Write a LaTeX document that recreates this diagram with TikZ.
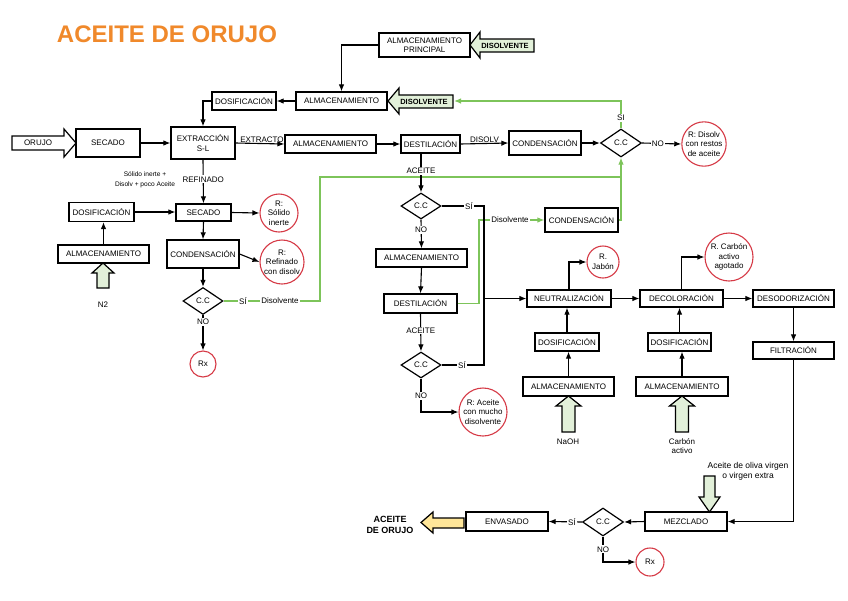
\documentclass[tikz,border=0pt]{standalone}
\usepackage{fontspec}
\setmainfont{Liberation Sans}
\usetikzlibrary{shapes.geometric,arrows.meta}
\definecolor{gline}{RGB}{125,196,90}
\definecolor{gfill}{RGB}{226,240,217}
\definecolor{yfill}{RGB}{255,230,153}
\definecolor{rcirc}{RGB}{214,58,70}
\definecolor{ttl}{RGB}{240,137,43}
\begin{document}
\begin{tikzpicture}[x=1pt,y=-1pt,
 box/.style={draw, line width=1.2pt, inner sep=0pt, align=center, font=\fontsize{8}{9.5}\selectfont},
 res/.style={draw=rcirc, circle, line width=1.1pt, inner sep=0pt, align=center, font=\fontsize{8}{9.5}\selectfont, fill=white},
 dec/.style={draw, diamond, line width=1.2pt, inner sep=0pt, font=\fontsize{8}{9.5}\selectfont},
 arr/.style={line width=1.1pt, -{Latex[length=7pt,width=5.5pt]}},
 ln/.style={line width=1.1pt},
 garr/.style={gline, line width=1.2pt, -{Latex[length=7pt,width=5.5pt]}},
 gln/.style={gline, line width=1.2pt},
 lbl/.style={font=\fontsize{8}{9.5}\selectfont, inner sep=1pt, align=center},
 wl/.style={lbl, fill=white, text=black},
 blk/.style={draw, line width=1.2pt, line join=miter},
]
\useasboundingbox[fill=white] (0,0) rectangle (848,600);

% title
\node[font=\bfseries\fontsize{24}{28}\selectfont, text=ttl] (title) at (167,34) {ACEITE DE ORUJO};

% boxes
\node[box, minimum width=91pt, minimum height=24pt] (almp) at (424.5,45) {ALMACENAMIENTO\\PRINCIPAL};
\node[box, minimum width=91pt, minimum height=18pt] (alm1) at (341.5,101) {ALMACENAMIENTO};
\node[box, minimum width=64pt, minimum height=18pt] (dos1) at (244,101) {DOSIFICACIÓN};
\node[box, minimum width=64pt, minimum height=28pt] (sec1) at (108,143) {SECADO};
\node[box, minimum width=64pt, minimum height=32pt] (ext) at (203,143) {EXTRACCIÓN\\S-L};
\node[box, minimum width=91pt, minimum height=18pt] (alm2) at (330.5,144) {ALMACENAMIENTO};
\node[box, minimum width=59pt, minimum height=18pt] (dest1) at (430.5,144) {DESTILACIÓN};
\node[box, minimum width=72pt, minimum height=24pt] (cond1) at (545,143) {CONDENSACIÓN};
\node[dec, minimum width=41pt, minimum height=28pt] (cc1) at (621,143) {C.C};
\node[res, minimum size=44pt] (r1) at (704,144) {R: Disolv\\con restos\\de aceite};

\node[box, minimum width=55pt, minimum height=17pt] (sec2) at (203.5,212.5) {SECADO};
\node[res, minimum size=38pt] (rsol) at (279,213) {R:\\Sólido\\inerte};
\node[box, minimum width=65pt, minimum height=19pt] (dos2) at (101.5,212) {DOSIFICACIÓN};
\node[box, minimum width=91pt, minimum height=18pt] (alm3) at (103.5,254) {ALMACENAMIENTO};
\node[box, minimum width=72pt, minimum height=28pt] (cond2) at (203,254) {CONDENSACIÓN};
\node[res, minimum size=44pt] (rref) at (282,262) {R:\\Refinado\\con disolv};
\node[dec, minimum width=40pt, minimum height=27pt] (cc2) at (203,301) {C.C};
\node[res, minimum size=26pt] (rx1) at (203,364) {Rx};

\node[dec, minimum width=40pt, minimum height=26pt] (cc3) at (421,206) {C.C};
\node[box, minimum width=73pt, minimum height=24pt] (cond3) at (581.5,220) {CONDENSACIÓN};
\node[box, minimum width=91pt, minimum height=18pt] (alm4) at (421.5,258) {ALMACENAMIENTO};
\node[box, minimum width=73pt, minimum height=19pt] (dest2) at (420.5,303.5) {DESTILACIÓN};
\node[dec, minimum width=40pt, minimum height=26pt] (cc4) at (421,365) {C.C};
\node[res, minimum size=48pt] (rmucho) at (483,412) {R: Aceite\\con mucho\\disolvente};

\node[box, minimum width=84pt, minimum height=17pt] (neut) at (569,298.5) {NEUTRALIZACIÓN};
\node[res, minimum size=32pt] (rjab) at (603,262) {R.\\Jabón};
\node[box, minimum width=64pt, minimum height=18pt] (dos3) at (567,342) {DOSIFICACIÓN};
\node[box, minimum width=91pt, minimum height=19pt] (alm5) at (568.5,386.5) {ALMACENAMIENTO};
\node[box, minimum width=83pt, minimum height=17pt] (decol) at (681.5,298.5) {DECOLORACIÓN};
\node[res, minimum size=48pt] (rcarb) at (729,257) {R. Carbón\\activo\\agotado};
\node[box, minimum width=63pt, minimum height=18pt] (dos4) at (679.5,342) {DOSIFICACIÓN};
\node[box, minimum width=92pt, minimum height=19pt] (alm6) at (682,386.5) {ALMACENAMIENTO};
\node[box, minimum width=81pt, minimum height=17pt] (desod) at (793.5,298.5) {DESODORIZACIÓN};
\node[box, minimum width=81pt, minimum height=17pt] (filt) at (793.5,350.5) {FILTRACIÓN};

\node[box, minimum width=82pt, minimum height=19pt] (mezc) at (686,521.5) {MEZCLADO};
\node[dec, minimum width=41pt, minimum height=28pt] (cc5) at (603,522) {C.C};
\node[box, minimum width=82pt, minimum height=19pt] (env) at (507,521.5) {ENVASADO};
\node[res, minimum size=28pt] (rx2) at (650,562) {Rx};

% block arrows
\draw[blk, fill=white] (12,136) -- (64,136) -- (64,129) -- (76,143) -- (64,157) -- (64,150) -- (12,150) -- cycle;
\node[lbl] (orujo) at (38,143) {ORUJO};
\draw[blk, fill=gfill] (534,39) -- (480,39) -- (480,32) -- (470,45) -- (480,58) -- (480,52) -- (534,52) -- cycle;
\node[font=\bfseries\fontsize{7.5}{9}\selectfont] (disv1) at (505,45.5) {DISOLVENTE};
\draw[blk, fill=gfill] (453,95) -- (399,95) -- (399,88) -- (388,101) -- (399,114) -- (399,108) -- (453,108) -- cycle;
\node[font=\bfseries\fontsize{7.5}{9}\selectfont] (disv2) at (424,101.5) {DISOLVENTE};
\coordinate (d2e) at (454,101);
\draw[blk, fill=gfill] (97,288) -- (97,273) -- (92,273) -- (103,263) -- (114,273) -- (109,273) -- (109,288) -- cycle;
\node[lbl] (n2) at (103,305) {N2};
\draw[blk, fill=gfill] (562,432) -- (562,406) -- (556,406) -- (568.5,396) -- (581,406) -- (575,406) -- (575,432) -- cycle;
\node[lbl] (naoh) at (568,442) {NaOH};
\draw[blk, fill=gfill] (675.5,432) -- (675.5,406) -- (669.5,406) -- (682,396) -- (694.5,406) -- (688.5,406) -- (688.5,432) -- cycle;
\node[lbl] (carb) at (682,446) {Carbón\\activo};
\draw[blk, fill=gfill] (704,476) -- (715,476) -- (715,497) -- (720,497) -- (709.5,512) -- (699,497) -- (704,497) -- cycle;
\node[lbl, font=\fontsize{8.5}{10}\selectfont] (oliva) at (748,471) {Aceite de oliva virgen\\o virgen extra};
\draw[blk, fill=yfill] (464,518) -- (433,518) -- (433,512) -- (421,522.5) -- (433,533) -- (433,528) -- (464,528) -- cycle;
\node[lbl, font=\bfseries\fontsize{9}{11}\selectfont] (final) at (390,525) {ACEITE\\DE ORUJO};

% small text
\node[lbl, font=\fontsize{6.6}{9.5}\selectfont] (solido) at (145,180) {Sólido inerte +\\Disolv + poco Aceite};

% black connectors
\draw[arr] (almp.west) -| (alm1.north);
\draw[arr] (alm1.west) -- (dos1.east);
\draw[arr] (dos1.west) -| (ext.north);
\draw[arr] (sec1.east) -- (ext.west);
\draw[arr] (ext.east) -- node[lbl, above, yshift=-1pt, xshift=2pt] (lext) {EXTRACTO} (alm2.west);
\draw[arr] (alm2.east) -- (dest1.west);
\draw[arr] (dest1.east) -- node[lbl, above, yshift=-1pt] (ldis) {DISOLV} (cond1.west);
\draw[arr] (cond1.east) -- (cc1.west);
\draw[arr] (cc1.east) -- node[wl, pos=0.4] (lno1) {NO} (r1.west);
\draw[arr] (ext.south) -- node[wl, pos=0.45] (lref) {REFINADO} (sec2.north);
\draw[arr] (dos2.east) -- (dos2.east -| sec2.west);
\draw[arr] (sec2.east) -- (rsol.west);
\draw[arr] (sec2.south) -- (cond2.north);
\draw[arr] (cond2.east) -- (rref.west);
\draw[arr] (cond2.south) -- (cc2.north);
\draw[arr] (cc2.south) -- node[wl, pos=0.2] (lno2) {NO} (rx1.north);
\draw[arr] (alm3.north) -- (alm3.north |- dos2.south);

% green connectors
\draw[gln] (cc2.east) -- (320,301) -- (320,177) -- (621,177);
\node[wl] (lsi2) at (243,301) {SÍ};
\node[wl] (ldv2) at (280,301) {Disolvente};
\draw[garr] (cond3.east) -| (cc1.south);
\draw[garr] (cc1.north) |- (d2e);
\node[wl] (lsi1) at (621,118) {SI};
\draw[garr] (dest2.east) -- (479,303.5) -- (479,220) -- (cond3.west);
\node[wl] (ldv3) at (510,220) {Disolvente};

% middle column
\coordinate (junc) at (484,298.5);
\draw[arr] (dest1.south -| cc3.north) -- node[wl, pos=0.45] (lac1) {ACEITE} (cc3.north);
\draw[arr] (cc3.south) -- node[wl, pos=0.35] (lno3) {NO} (alm4.north);
\draw[ln] (cc3.east) -- (484,206) -- (junc);
\node[wl] (lsi3) at (469,206) {SÍ};
\draw[arr] (alm4.south) -- (dest2.north);
\draw[arr] (dest2.south) -- node[wl, pos=0.45] (lac2) {ACEITE} (cc4.north);
\draw[ln] (cc4.east) -- (484,365) -- (junc);
\node[wl] (lsi4) at (462,365) {SÍ};
\draw[arr] (junc) -- (neut.west);
\draw[arr] (cc4.south) |- (rmucho.west);
\node[wl] (lno4) at (421,396) {NO};

% right side
\draw[arr] (neut.north) |- (rjab.west);
\draw[arr] (dos3.north) -- (dos3.north |- neut.south);
\draw[arr] (alm5.north) -- (alm5.north |- dos3.south);
\draw[arr] (neut.east) -- (decol.west);
\draw[arr] (decol.north) |- (rcarb.west);
\draw[arr] (dos4.north) -- (dos4.north |- decol.south);
\draw[arr] (alm6.north) -- (alm6.north |- dos4.south);
\draw[arr] (decol.east) -- (desod.west);
\draw[arr] (desod.south) -- (filt.north);
\draw[arr] (filt.south) |- (mezc.east);
\draw[arr] (mezc.west) -- (cc5.east);
\draw[arr] (cc5.west) -- node[wl, pos=0.3] (lsi5) {SÍ} (env.east);
\draw[arr] (cc5.south) |- node[wl, pos=0.25] (lno5) {NO} (rx2.west);
\end{tikzpicture}
\end{document}
